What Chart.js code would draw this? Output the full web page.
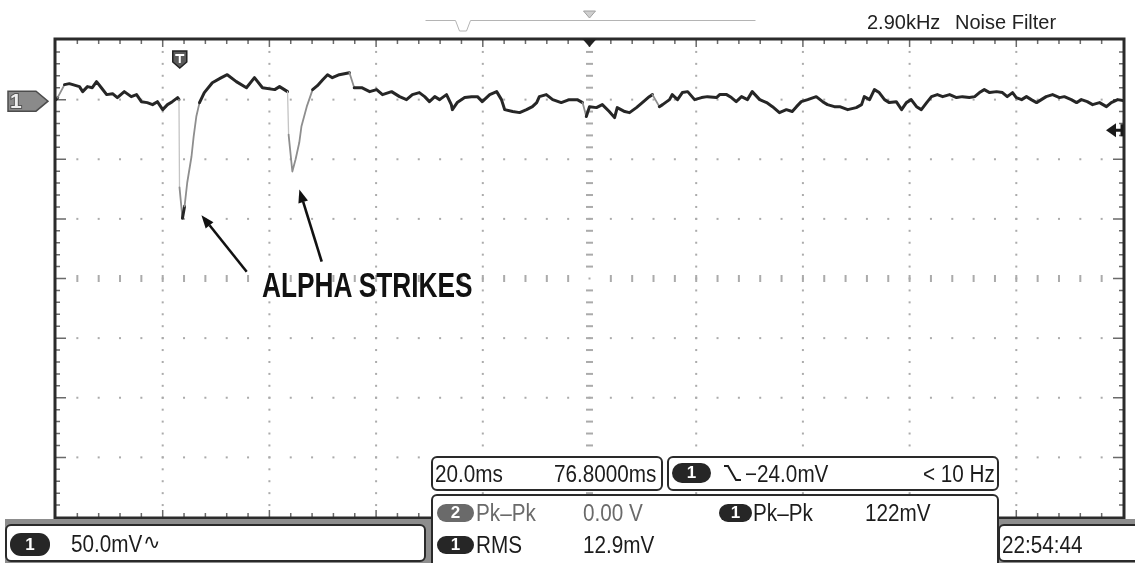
<!DOCTYPE html>
<html>
<head>
<meta charset="utf-8">
<script src="https://cdn.jsdelivr.net/npm/chart.js@4.4.1/dist/chart.umd.min.js"></script>
<style>
  html, body { margin: 0; padding: 0; background: #fff; }
  #scope { position: relative; width: 1135px; height: 563px; overflow: hidden; background: #fff; }
  #scope canvas { position: absolute; left: 0; top: 0; }
  .band { position: absolute; background: #8d8d8d; }
  .panel { position: absolute; background: #fff; border: 2px solid #2a2a2a; border-radius: 6px; box-sizing: border-box; }
  .lbl { position: absolute; white-space: nowrap; line-height: 1; font-family: "Liberation Sans", Arial, sans-serif; color: #1c1c1c; transform-origin: 0 0; }
  .badge { position: absolute; border-radius: 11px; background: #262626; color: #fff; font-family: "Liberation Sans", Arial, sans-serif; font-weight: bold; text-align: center; box-sizing: border-box; }
  svg.icon { position: absolute; left: 0; top: 0; overflow: visible; }
</style>
</head>
<body>
<div id="scope">
  <canvas id="c" width="1135" height="563"></canvas>
</div>
<script>
// ---- acquisition settings ----
const TIME_PER_DIV = 20;      // ms per horizontal division
const VOLT_PER_DIV = 50;      // mV per vertical division
const DIVS_X = 10;
const DIVS_Y = 8;
const MINOR = 5;              // minor ticks per division
const T_MIN = 0;
const T_MAX = TIME_PER_DIV * DIVS_X;
const V_MAX = 50;             // ground sits one division below the top
const V_MIN = V_MAX - VOLT_PER_DIV * DIVS_Y;
const TRIG_DELAY = 76.8;      // ms, trigger point to screen centre
const T_CENTER = T_MAX / 2;
const TRIG_T = T_CENTER - TRIG_DELAY;
const TRIG_LEVEL = -24.0;     // mV, falling edge
const RMS_TEXT = '12.9mV';
const CLOCK_TEXT = '22:54:44';

// ---- channel 1 trace: time (ms from left edge) and voltage (mV) ----
const TIME_MS = [
  0, 0.3, 1.6, 2.5, 4.4, 5.0, 5.9, 6.8, 7.6, 8.5,
  9.5, 10.6, 11.5, 12.8, 14.1, 15.1, 16.0, 17.1, 18.1, 19.0,
  20.0, 20.9, 21.8, 22.8, 23.05, 23.15, 23.7, 24.1, 24.6, 25.4,
  25.8, 26.3, 26.9, 27.8, 29.3, 31.0, 32.1, 33.8, 35.7, 37.2,
  38.7, 41.0, 41.9, 43.4, 43.6, 44.3, 44.9, 45.6, 46.0, 47.0,
  48.1, 49.0, 50.0, 50.9, 51.8, 53.1, 55.0, 55.9, 57.3, 58.8,
  60.1, 61.2, 62.9, 64.4, 65.7, 66.8, 68.1, 69.1, 70.0, 71.0,
  71.9, 73.2, 74.1, 74.3, 75.2, 76.6, 77.9, 79.0, 79.9, 81.3,
  82.6, 83.5, 84.1, 85.6, 86.9, 88.2, 89.3, 90.1, 90.6, 91.9,
  93.1, 94.7, 96.2, 97.7, 98.7, 99.4, 100.0, 101.3, 102.4, 103.7,
  104.7, 105.2, 106.6, 107.5, 108.8, 109.9, 111.2, 111.8, 113.1, 113.7,
  115.0, 115.5, 116.5, 117.4, 118.4, 119.7, 121.0, 122.1, 123.8, 124.4,
  125.7, 126.6, 127.5, 128.5, 129.6, 130.5, 131.9, 133.2, 134.3, 135.6,
  136.9, 138.0, 138.8, 139.7, 140.9, 142.5, 143.7, 144.6, 145.9, 146.9,
  148.4, 150.0, 151.0, 151.5, 152.5, 153.4, 154.3, 155.3, 156.2, 157.5,
  158.5, 159.4, 160.3, 161.3, 162.2, 163.2, 164.1, 165.2, 166.2, 167.5,
  168.8, 169.9, 171.2, 172.2, 173.1, 174.0, 175.0, 176.3, 177.4, 178.3,
  179.3, 180.0, 181.0, 181.9, 182.8, 183.8, 184.7, 185.6, 186.8, 188.1,
  189.0, 190.3, 191.3, 192.2, 193.3, 194.3, 195.6, 196.9, 197.8, 199.0,
  200.0
];
const CH1_MV = [
  0, 1.7, 12.6, 13.4, 10.9, 6.7, 10.9, 10.0, 15.1, 10.0,
  4.2, 5.0, 1.7, 6.7, 2.5, 4.2, -1.7, -2.5, -4.2, -1.7,
  -8.4, -4.2, -1.7, 1.7, 0.0, -73.6, -99.4, -89.5, -69.5, -47.7,
  -31.0, -14.2, -2.5, 5.9, 14.2, 18.4, 20.9, 15.1, 10.0, 18.4,
  10.0, 8.4, 10.9, 6.7, -29.3, -60.3, -50.2, -36.0, -22.6, -5.9,
  8.4, 11.7, 16.7, 20.9, 18.4, 20.9, 22.6, 10.0, 10.0, 6.7,
  8.4, 4.2, 6.7, 2.5, 0.0, 4.2, 5.9, 2.5, -1.7, 2.5,
  0.0, 4.2, -4.2, -8.4, -2.5, 1.7, 2.5, 2.5, -1.7, 4.2,
  6.7, 0.0, -8.4, -10.0, -10.9, -8.4, -5.9, -2.5, 2.5, 4.2,
  0.0, -2.5, 0.0, 0.0, -2.5, -14.2, -5.9, -6.7, -4.2, -10.0,
  -15.1, -6.7, -10.0, -10.9, -6.7, -2.5, 2.5, 4.2, -5.9, -4.2,
  0.0, 4.2, 0.0, 5.9, 6.7, 0.0, 1.7, 2.5, 1.7, 4.2,
  4.2, 1.7, -1.7, 2.5, 0.0, 6.7, 0.0, -2.5, -5.9, -10.9,
  -8.4, -10.0, -5.9, -1.7, 0.0, 2.5, -1.7, -4.2, -5.9, -5.9,
  -8.4, -6.7, -4.2, 2.5, 0.0, 8.4, 5.9, 0.0, -2.5, -1.7,
  -8.4, -2.5, 0.0, -5.9, -8.4, -2.5, 2.5, 4.2, 2.5, 4.2,
  1.7, 2.5, 1.7, 2.5, 5.9, 8.4, 5.9, 6.7, 5.9, 2.5,
  5.9, 1.7, 0.0, 2.5, 0.0, -2.5, 0.0, 2.5, 4.2, 1.7,
  2.5, 0.0, -2.5, 0.0, -1.7, -4.2, -2.5, -5.9, -2.5, 0.0,
  -0.8
];

const PK_PK = Math.max(...CH1_MV) - Math.min(...CH1_MV);

// callout arrows: tip offset (px) from each strike minimum, and tail position
const STRIKE_ARROWS = [
  { dx: 19, dy: -3, tail: [246.7, 271.7] },
  { dx: 7, dy: 18, tail: [321.7, 261.7] }
];

// local minima deep enough to count as strikes
function strikeIndices() {
  const out = [];
  for (let i = 1; i < CH1_MV.length - 1; i++) {
    if (CH1_MV[i] < -40 && CH1_MV[i] <= CH1_MV[i - 1] && CH1_MV[i] <= CH1_MV[i + 1]) out.push(i);
  }
  return out;
}

function arrow(ctx, x0, y0, x1, y1) {
  const ang = Math.atan2(y1 - y0, x1 - x0);
  const len = 13, half = 5;
  const bx = x1 - Math.cos(ang) * len, by = y1 - Math.sin(ang) * len;
  ctx.beginPath();
  ctx.moveTo(x0, y0);
  ctx.lineTo(bx, by);
  ctx.stroke();
  ctx.beginPath();
  ctx.moveTo(x1, y1);
  ctx.lineTo(bx + Math.sin(ang) * half, by - Math.cos(ang) * half);
  ctx.lineTo(bx - Math.sin(ang) * half, by + Math.cos(ang) * half);
  ctx.closePath();
  ctx.fill();
}

// graticule, frame and on-screen markers
const scopeFace = {
  id: 'scopeFace',
  beforeDatasetsDraw(chart) {
    const { ctx, chartArea: a, scales: { x, y } } = chart;
    const nx = DIVS_X * MINOR, ny = DIVS_Y * MINOR;
    const tStep = TIME_PER_DIV / MINOR, vStep = VOLT_PER_DIV / MINOR;
    const cx = x.getPixelForValue(T_CENTER);
    const cy = y.getPixelForValue((V_MAX + V_MIN) / 2);
    ctx.save();
    ctx.fillStyle = '#ababab';
    // dotted vertical division lines
    for (let i = 1; i < DIVS_X; i++) {
      const px = x.getPixelForValue(i * TIME_PER_DIV);
      if (i * 2 === DIVS_X) continue;
      for (let j = 1; j < ny; j++) {
        const py = y.getPixelForValue(V_MIN + j * vStep);
        ctx.fillRect(px - 1, py - 1, 2, 2);
      }
    }
    // dotted horizontal division lines
    for (let k = 1; k < DIVS_Y; k++) {
      if (k * 2 === DIVS_Y) continue;
      const py = y.getPixelForValue(V_MIN + k * VOLT_PER_DIV);
      for (let i = 1; i < nx; i++) {
        const px = x.getPixelForValue(i * tStep);
        ctx.fillRect(px - 1, py - 1, 2, 2);
      }
    }
    // centre cross with small dashes
    for (let j = 1; j < ny; j++) {
      const py = y.getPixelForValue(V_MIN + j * vStep);
      if (j * 2 === ny) { ctx.fillRect(cx - 1, py - 1, 2, 2); continue; }
      ctx.fillRect(cx - 3.5, py - 1, 7, 2);
    }
    for (let i = 1; i < nx; i++) {
      if (i * 2 === nx) continue;
      const px = x.getPixelForValue(i * tStep);
      ctx.fillRect(px - 1, cy - 3.5, 2, 7);
    }
    // edge ticks
    ctx.strokeStyle = '#6a6a6a';
    ctx.lineWidth = 1.5;
    ctx.beginPath();
    for (let i = 1; i < nx; i++) {
      const px = x.getPixelForValue(i * tStep);
      const l = i % MINOR === 0 ? 7 : 4;
      ctx.moveTo(px, a.top); ctx.lineTo(px, a.top + l);
      ctx.moveTo(px, a.bottom); ctx.lineTo(px, a.bottom - l);
    }
    for (let j = 1; j < ny; j++) {
      const py = y.getPixelForValue(V_MIN + j * vStep);
      const l = j % MINOR === 0 ? 10 : 4;
      ctx.moveTo(a.left, py); ctx.lineTo(a.left + l, py);
      ctx.moveTo(a.right, py); ctx.lineTo(a.right - l, py);
    }
    ctx.stroke();
    // frame
    ctx.strokeStyle = '#2b2b2b';
    ctx.lineWidth = 3;
    ctx.strokeRect(a.left - 1, a.top - 1, a.width + 2, a.height + 2);
    ctx.restore();
  },
  afterDatasetsDraw(chart) {
    const { ctx, chartArea: a, scales: { x, y } } = chart;
    const cx = x.getPixelForValue(T_CENTER);
    ctx.save();

    // record window strip above the screen
    ctx.strokeStyle = '#b4b4b4';
    ctx.lineWidth = 1;
    ctx.beginPath();
    ctx.moveTo(cx - 164, 20.5);
    ctx.lineTo(cx - 134, 20.5);
    ctx.lineTo(cx - 130, 31);
    ctx.lineTo(cx - 123, 31);
    ctx.lineTo(cx - 119, 20.5);
    ctx.lineTo(cx + 166, 20.5);
    ctx.stroke();
    ctx.fillStyle = '#cfcfcf';
    ctx.beginPath();
    ctx.moveTo(cx - 6, 11); ctx.lineTo(cx + 6, 11); ctx.lineTo(cx, 18); ctx.closePath();
    ctx.fill();
    ctx.strokeStyle = '#a0a0a0';
    ctx.stroke();

    // delay marker on the top edge
    ctx.fillStyle = '#222';
    ctx.beginPath();
    ctx.moveTo(cx - 7, a.top - 1); ctx.lineTo(cx + 7, a.top - 1); ctx.lineTo(cx, a.top + 7); ctx.closePath();
    ctx.fill();

    // trigger point marker
    const tx = x.getPixelForValue(TRIG_T);
    ctx.fillStyle = '#5a5a5a';
    ctx.strokeStyle = '#222';
    ctx.lineWidth = 1.5;
    ctx.beginPath();
    ctx.moveTo(tx - 7, 51); ctx.lineTo(tx + 7, 51); ctx.lineTo(tx + 7, 62);
    ctx.lineTo(tx, 68); ctx.lineTo(tx - 7, 62); ctx.closePath();
    ctx.fill(); ctx.stroke();
    ctx.strokeStyle = '#fff';
    ctx.lineWidth = 2;
    ctx.beginPath();
    ctx.moveTo(tx - 4.5, 55); ctx.lineTo(tx + 4.5, 55);
    ctx.moveTo(tx, 55); ctx.lineTo(tx, 63);
    ctx.stroke();

    // channel 1 ground marker
    const gy = y.getPixelForValue(0) + 1.5;
    ctx.fillStyle = '#8a8a8a';
    ctx.strokeStyle = '#4c4c4c';
    ctx.lineWidth = 1.5;
    ctx.beginPath();
    ctx.moveTo(8, gy - 10); ctx.lineTo(36, gy - 10); ctx.lineTo(48, gy);
    ctx.lineTo(36, gy + 10); ctx.lineTo(8, gy + 10); ctx.closePath();
    ctx.fill(); ctx.stroke();
    ctx.font = 'bold 21px "Liberation Sans", Arial, sans-serif';
    ctx.textBaseline = 'middle';
    ctx.lineWidth = 2;
    ctx.strokeStyle = '#555';
    ctx.strokeText('1', 10, gy + 1);
    ctx.fillStyle = '#eee';
    ctx.fillText('1', 10, gy + 1);

    // trigger level marker on the right edge
    const ly = y.getPixelForValue(TRIG_LEVEL) + 2;
    ctx.fillStyle = '#1a1a1a';
    ctx.strokeStyle = '#1a1a1a';
    ctx.lineWidth = 3;
    ctx.beginPath();
    ctx.moveTo(a.right - 8, ly); ctx.lineTo(a.right, ly);
    ctx.moveTo(a.right - 1, ly - 6); ctx.lineTo(a.right - 1, ly + 6);
    ctx.stroke();
    ctx.beginPath();
    ctx.moveTo(a.right - 17, ly); ctx.lineTo(a.right - 7, ly - 7); ctx.lineTo(a.right - 7, ly + 7); ctx.closePath();
    ctx.fill();

    // callout arrows towards the strikes
    ctx.strokeStyle = '#111';
    ctx.fillStyle = '#111';
    ctx.lineWidth = 2.6;
    strikeIndices().forEach((idx, k) => {
      const spec = STRIKE_ARROWS[k];
      if (!spec) return;
      const px = x.getPixelForValue(TIME_MS[idx]) + spec.dx;
      const py = y.getPixelForValue(CH1_MV[idx]) + spec.dy;
      arrow(ctx, spec.tail[0], spec.tail[1], px, py);
    });
    ctx.restore();
  }
};

function segSteep(c) { return Math.abs(c.p1.y - c.p0.y); }

new Chart(document.getElementById('c'), {
  type: 'line',
  data: {
    datasets: [{
      label: 'CH1',
      data: TIME_MS.map((t, i) => ({ x: t, y: CH1_MV[i] })),
      borderColor: '#262626',
      borderWidth: 3,
      borderJoinStyle: 'round',
      borderCapStyle: 'round',
      pointRadius: 0,
      tension: 0,
      segment: {
        borderColor: c => segSteep(c) > 40 ? '#c4c4c4' : (segSteep(c) > 12 ? '#8e8e8e' : undefined),
        borderWidth: c => segSteep(c) > 40 ? 1.3 : (segSteep(c) > 12 ? 1.8 : undefined)
      }
    }]
  },
  options: {
    responsive: false,
    animation: false,
    devicePixelRatio: 1,
    layout: { padding: { left: 56, right: 12, top: 40, bottom: 46 } },
    scales: {
      x: { type: 'linear', min: T_MIN, max: T_MAX, display: false },
      y: { type: 'linear', min: V_MIN, max: V_MAX, display: false }
    },
    plugins: { legend: { display: false }, tooltip: { enabled: false } }
  },
  plugins: [scopeFace]
});

// ---- readout panels and labels ----
const scope = document.getElementById('scope');
const READOUT_SIZE = 23;
const READOUT_SQUEEZE = 0.9;   // the instrument font is a little narrower than Liberation Sans

function addBox(cls, x0, y0, x1, y1) {
  const d = document.createElement('div');
  d.className = cls;
  d.style.left = x0 + 'px'; d.style.top = y0 + 'px';
  d.style.width = (x1 - x0) + 'px'; d.style.height = (y1 - y0) + 'px';
  scope.appendChild(d);
  return d;
}

function addText(text, x0, baseline, size, squeeze, weight, color, family) {
  const d = document.createElement('div');
  d.className = 'lbl';
  d.textContent = text;
  d.style.fontSize = size + 'px';
  d.style.fontWeight = weight || 400;
  if (color) d.style.color = color;
  if (family) d.style.fontFamily = family;
  d.style.left = x0 + 'px';
  d.style.top = (baseline - 0.8465 * size) + 'px';
  if (squeeze !== 1) d.style.transform = 'scaleX(' + squeeze + ')';
  scope.appendChild(d);
  return d;
}

function readout(text, x0, baseline, color) {
  return addText(text, x0, baseline, READOUT_SIZE, READOUT_SQUEEZE, 400, color);
}

function addBadge(text, x0, x1, y0, y1, bg) {
  const d = addBox('badge', x0, y0, x1, y1);
  d.textContent = text;
  d.style.fontSize = '17px';
  d.style.lineHeight = (y1 - y0) + 'px';
  if (bg) d.style.background = bg;
  return d;
}

addBox('band', 5, 519, 1135, 563);
addBox('panel', 431, 456, 663, 491);
addBox('panel', 667, 456, 999, 491);
addBox('panel', 431, 494, 999, 570);
addBox('panel', 5, 524, 426, 562);
addBox('panel', 998, 524, 1145, 562);

// header
addText('2.90kHz', 867, 29, 20, 1, 400, '#222');
addText('Noise Filter', 955, 29, 20, 1, 400, '#222');

// annotation (condensed bold caption)
addText('ALPHA STRIKES', 262, 297, 35, 0.75, 700, '#111');

// timebase / trigger readout
readout(TIME_PER_DIV.toFixed(1) + 'ms', 435, 482);
readout(TRIG_DELAY.toFixed(4) + 'ms', 554, 482);
addBadge('1', 672, 711, 463, 483);
const edge = document.createElementNS('http://www.w3.org/2000/svg', 'svg');
edge.setAttribute('class', 'icon');
edge.setAttribute('width', '1135'); edge.setAttribute('height', '563');
edge.innerHTML = '<polyline points="724,466 728,466 736,480 741,480" fill="none" stroke="#1c1c1c" stroke-width="2"/>';
scope.appendChild(edge);
readout('\u2212' + Math.abs(TRIG_LEVEL).toFixed(1) + 'mV', 745, 482);
readout('< 10 Hz', 923, 482);

// measurements
addBadge('2', 437, 474, 504, 522, '#6a6a6a');
readout('Pk\u2013Pk', 476, 521, '#6a6a6a');
readout('0.00 V', 583, 521, '#6a6a6a');
addBadge('1', 719, 752, 504, 522);
readout('Pk\u2013Pk', 753, 521);
readout(Math.round(PK_PK) + 'mV', 865, 521);
addBadge('1', 437, 474, 536, 554);
readout('RMS', 476, 553);
readout(RMS_TEXT, 583, 553);

// channel scale and clock
addBadge('1', 10, 50, 533, 556);
readout(VOLT_PER_DIV.toFixed(1) + 'mV', 71, 552);
addText('\u223F', 143, 550, 21, 1, 400, '#1c1c1c', '"DejaVu Sans", sans-serif');
readout(CLOCK_TEXT, 1002, 553);
</script>
</body>
</html>
